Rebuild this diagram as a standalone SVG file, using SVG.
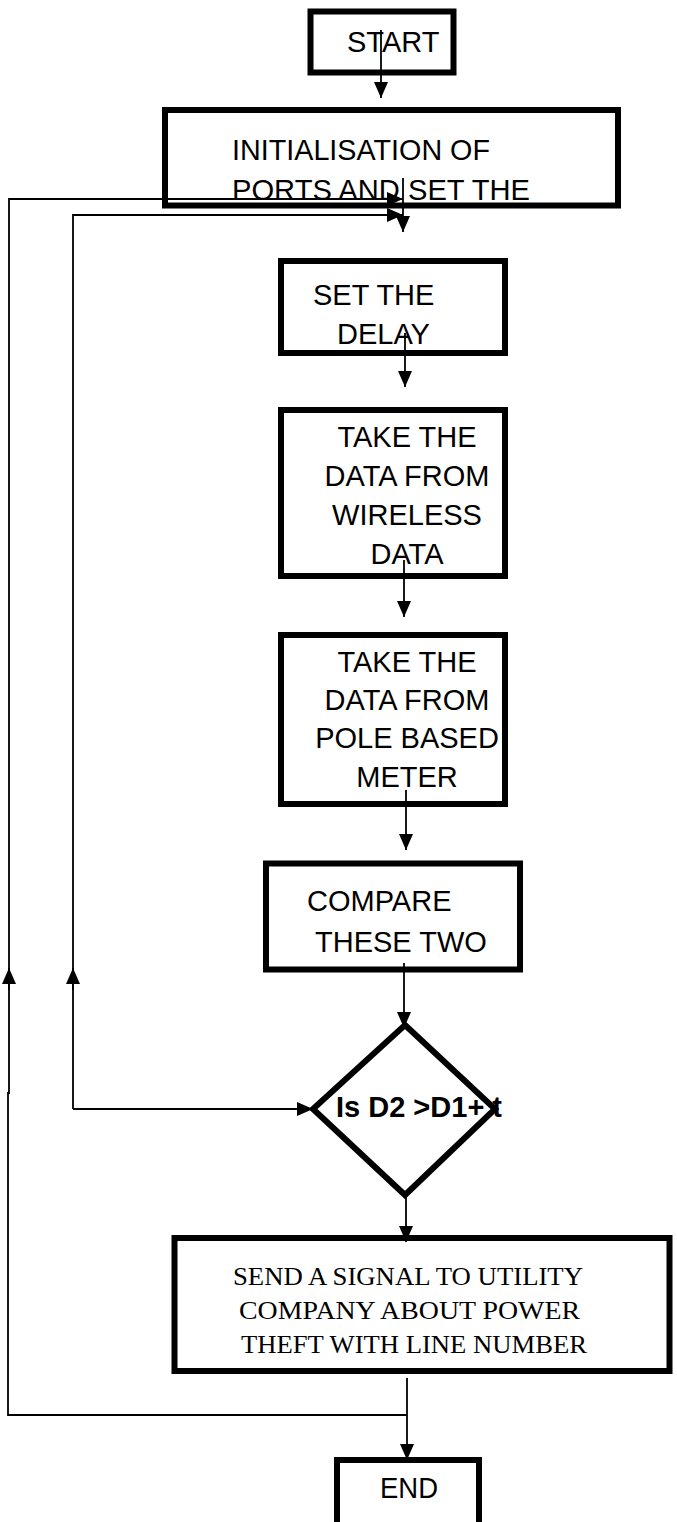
<svg xmlns="http://www.w3.org/2000/svg" width="677" height="1522" viewBox="0 0 677 1522">
  <defs>
    <marker id="arrow" markerUnits="userSpaceOnUse" markerWidth="17" markerHeight="15" refX="16" refY="7" orient="auto">
      <path d="M0,0 L16,7 L0,14 Z" fill="#000"/>
    </marker>
    <style>
      .box { fill: none; stroke: #000; stroke-width: 6; }
      .sans { font-family: "Liberation Sans", Arial, sans-serif; font-size: 29px; fill: #000; }
      .serif { font-family: "Liberation Serif", "Times New Roman", serif; font-size: 26px; fill: #000; }
      .bold { font-weight: bold; }
      .wire { fill: none; stroke: #000; stroke-width: 1.8; }
      .arrow { marker-end: url(#arrow); }
    </style>
  </defs>

  <rect x="0" y="0" width="677" height="1522" fill="#fff"/>

  <g id="start">
    <rect class="box" x="310.5" y="11.5" width="143" height="61"/>
    <text class="sans" x="347" y="52" font-size="27">START</text>
  </g>

  <g id="init">
    <rect class="box" x="165" y="110" width="453" height="95.5"/>
    <text class="sans" x="232" y="160" font-size="31" textLength="258" lengthAdjust="spacingAndGlyphs">INITIALISATION OF</text>
    <text class="sans" x="232" y="200" font-size="31" textLength="298" lengthAdjust="spacingAndGlyphs">PORTS AND SET THE</text>
  </g>

  <g id="delay">
    <rect class="box" x="281" y="261" width="224" height="92"/>
    <text class="sans" x="313" y="305" font-size="30">SET THE</text>
    <text class="sans" x="337" y="344" font-size="30">DELAY</text>
  </g>

  <g id="wireless">
    <rect class="box" x="281" y="410" width="224" height="166"/>
    <text class="sans" x="407" y="447" text-anchor="middle">TAKE THE</text>
    <text class="sans" x="407" y="486" text-anchor="middle">DATA FROM</text>
    <text class="sans" x="407" y="525" text-anchor="middle">WIRELESS</text>
    <text class="sans" x="407" y="564" text-anchor="middle">DATA</text>
  </g>

  <g id="pole">
    <rect class="box" x="281" y="635" width="224" height="169"/>
    <text class="sans" x="407" y="672" text-anchor="middle">TAKE THE</text>
    <text class="sans" x="407" y="710" text-anchor="middle">DATA FROM</text>
    <text class="sans" x="407" y="748" text-anchor="middle">POLE BASED</text>
    <text class="sans" x="407" y="787" text-anchor="middle">METER</text>
  </g>

  <g id="compare">
    <rect class="box" x="266" y="863.5" width="254" height="106"/>
    <text class="sans" x="307" y="911">COMPARE</text>
    <text class="sans" x="315" y="952">THESE TWO</text>
  </g>

  <g id="decision">
    <polygon class="box" points="405,1025 495,1109 405,1195 313,1109"/>
    <text class="sans bold" x="336" y="1117">Is D2 &gt;D1+ t</text>
  </g>

  <g id="signal">
    <rect class="box" x="174.5" y="1238" width="495" height="133"/>
    <text class="serif" x="233" y="1285" textLength="350" lengthAdjust="spacingAndGlyphs">SEND A SIGNAL TO UTILITY</text>
    <text class="serif" x="239" y="1319" textLength="341" lengthAdjust="spacingAndGlyphs">COMPANY ABOUT POWER</text>
    <text class="serif" x="241" y="1353" textLength="346" lengthAdjust="spacingAndGlyphs">THEFT WITH LINE NUMBER</text>
  </g>

  <g id="end">
    <rect class="box" x="337" y="1460" width="142" height="70"/>
    <text class="sans" x="380" y="1498" font-size="26" textLength="58" lengthAdjust="spacingAndGlyphs">END</text>
  </g>

  <g id="connectors">
    <path class="wire arrow" d="M381,30 V98"/>
    <path class="wire arrow" d="M403,178 V232"/>
    <path class="wire arrow" d="M405,333 V387"/>
    <path class="wire arrow" d="M404,560 V617"/>
    <path class="wire arrow" d="M406,790 V850"/>
    <path class="wire arrow" d="M404,963 V1028"/>
    <path class="wire arrow" d="M406,1195 V1242"/>
    <path class="wire arrow" d="M407,1378 V1460"/>
    <!-- outer return loop -->
    <path class="wire arrow" d="M407,1415 H8 V1093 H9 V199 H403"/>
    <path class="wire arrow" d="M9,990 V968"/>
    <!-- inner return loop -->
    <path class="wire arrow" d="M73,1109 V215 H403"/>
    <path class="wire arrow" d="M73,990 V968"/>
    <path class="wire arrow" d="M73,1109 H313"/>
  </g>
</svg>
